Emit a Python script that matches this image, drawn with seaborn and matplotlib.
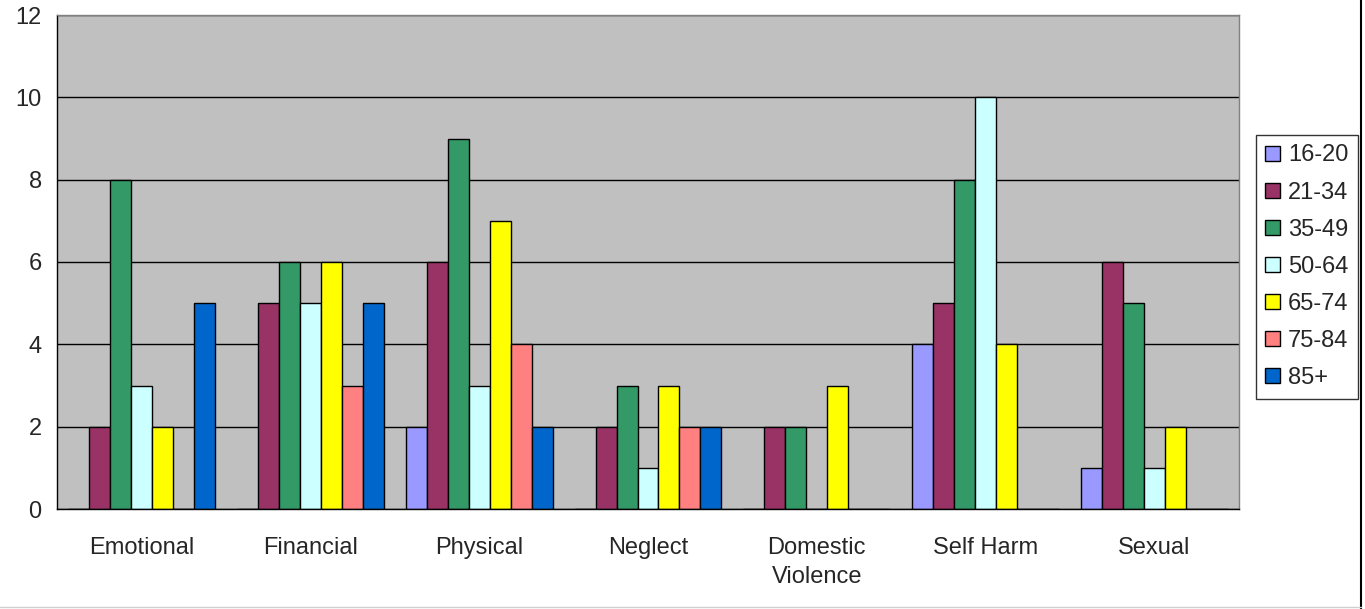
import matplotlib
matplotlib.use("Agg")
import matplotlib.pyplot as plt
import seaborn as sns
import pandas as pd
from matplotlib.lines import Line2D

categories = ["Emotional", "Financial", "Physical", "Neglect", "Domestic\nViolence", "Self Harm", "Sexual"]
age_groups = ["16-20", "21-34", "35-49", "50-64", "65-74", "75-84", "85+"]
v_16_20 = [0, 0, 2, 0, 0, 4, 1]
v_21_34 = [2, 5, 6, 2, 2, 5, 6]
v_35_49 = [8, 6, 9, 3, 2, 8, 5]
v_50_64 = [3, 5, 3, 1, 0, 10, 1]
v_65_74 = [2, 6, 7, 3, 3, 4, 2]
v_75_84 = [0, 3, 4, 2, 0, 0, 0]
v_85_plus = [5, 5, 2, 2, 0, 0, 0]
colors = ["#9999FF", "#993366", "#339966", "#CCFFFF", "#FFFF00", "#FF8080", "#0066CC"]

series = [v_16_20, v_21_34, v_35_49, v_50_64, v_65_74, v_75_84, v_85_plus]
rows = []
for age, vals in zip(age_groups, series):
    for cat, v in zip(categories, vals):
        rows.append({"category": cat, "age": age, "value": v})
df = pd.DataFrame(rows)

sns.set_style("white")
plt.rcParams['font.family'] = ['Liberation Sans', 'DejaVu Sans']
FS = 17

fig = plt.figure(figsize=(13.65, 6.09), dpi=100)
ax = fig.add_axes([57/1365, 100/609, (1239-57)/1365, (509-15)/609])
ax.set_facecolor("#C0C0C0")

sns.barplot(data=df, x="category", y="value", hue="age", order=categories,
            hue_order=age_groups, palette=colors, saturation=1, width=0.87,
            edgecolor="black", linewidth=1, ax=ax, errorbar=None)

ax.set_ylim(0, 12)
ax.set_yticks(range(0, 13, 2))
ax.set_xlim(-0.5, len(categories) - 0.5)
ax.set_axisbelow(True)
ax.yaxis.grid(True, color="black", linewidth=1)
ax.xaxis.grid(False)
ax.set_xlabel("")
ax.set_ylabel("")

ax.set_xticks(range(len(categories)))
ax.set_xticklabels(categories, fontsize=FS, linespacing=1.45)
ax.set_xticks([i - 0.5 for i in range(len(categories) + 1)], minor=True)
ax.tick_params(axis="x", which="major", length=0, pad=20)
ax.tick_params(axis="x", which="minor", length=6, width=1, color="black", direction="out")
ax.tick_params(axis="y", length=6, width=1, color="black", direction="out", labelsize=FS, pad=5)

for s in ["left", "bottom"]:
    ax.spines[s].set_color("black")
    ax.spines[s].set_linewidth(1)
for s in ["top", "right"]:
    ax.spines[s].set_color("#808080")
    ax.spines[s].set_linewidth(1)

handles, labels = ax.get_legend_handles_labels()
if ax.get_legend() is not None:
    ax.get_legend().remove()
leg = fig.legend(handles, labels, loc="upper left",
                 bbox_to_anchor=(1256/1365, 1 - 135/609), bbox_transform=fig.transFigure,
                 frameon=True, fancybox=False, edgecolor="black", facecolor="white",
                 fontsize=FS, handlelength=0.6, handleheight=0.6, handletextpad=0.35,
                 labelspacing=0.64, borderpad=0.4, borderaxespad=0)
leg.get_frame().set_linewidth(1)

fig.add_artist(Line2D([1361/1365, 1361/1365], [0, 1], color="black", linewidth=1.5, transform=fig.transFigure))
fig.add_artist(Line2D([0, 1361/1365], [2/609, 2/609], color="#D0D0D0", linewidth=1, transform=fig.transFigure))

fig.savefig("out.png", dpi=100, facecolor="white")
